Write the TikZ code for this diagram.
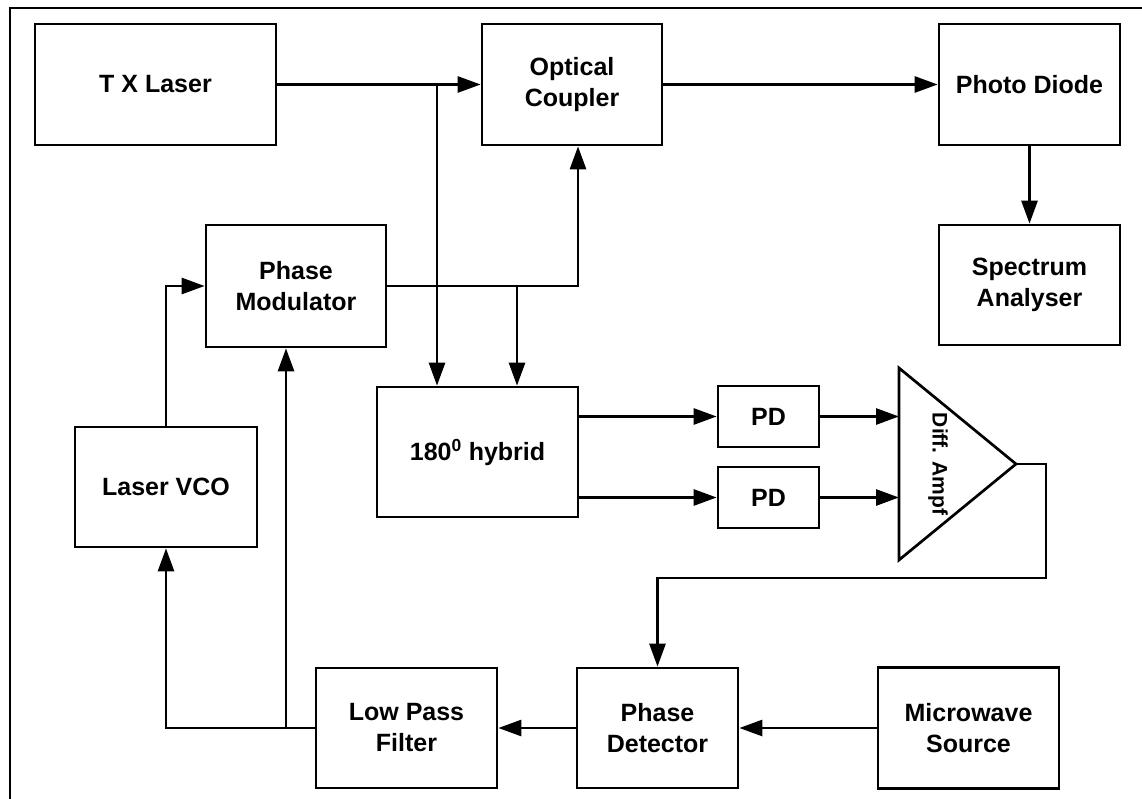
\documentclass[tikz,border=0pt]{standalone}
\usepackage{fontspec}
\setmainfont{Liberation Sans}
\usetikzlibrary{arrows.meta,calc}
\begin{document}
\begin{tikzpicture}[x=1pt,y=-1pt,
  line/.style={line width=2.7pt},
  arr/.style={line, -{Triangle[length=23pt,width=16pt]}},
  blk/.style={draw, line width=2.7pt, inner sep=0pt, align=center,
    font=\fontsize{25}{31}\selectfont\bfseries},
]
\useasboundingbox (0,0) rectangle (1142,799);
\draw[line] (10,799) -- (10,8) -- (1142,8);

\node[blk, minimum width=241pt, minimum height=121pt] (tx) at (155.5,84.5) {T X Laser};
\node[blk, minimum width=180pt, minimum height=121pt] (oc) at (572,84.5) {Optical\\Coupler};
\node[blk, minimum width=181pt, minimum height=121pt] (pd) at (1029.5,84.5) {Photo Diode};
\node[blk, minimum width=181pt, minimum height=120pt] (sa) at (1029.5,285) {Spectrum\\Analyser};
\node[blk, minimum width=180pt, minimum height=122pt] (pm) at (296,286) {Phase\\Modulator};
\node[blk, minimum width=201pt, minimum height=130pt] (hyb) at (477.5,452) {180\textsuperscript{0} hybrid};
\node[blk, minimum width=101pt, minimum height=61pt] (pd1) at (768.5,416.5) {PD};
\node[blk, minimum width=101pt, minimum height=61pt] (pd2) at (768.5,497.5) {PD};
\node[blk, minimum width=182pt, minimum height=120pt] (vco) at (166,487) {Laser VCO};
\node[blk, minimum width=181pt, minimum height=120pt] (lpf) at (406.5,728) {Low Pass\\Filter};
\node[blk, minimum width=161pt, minimum height=120pt] (det) at (657.5,728) {Phase\\Detector};
\node[blk, minimum width=181pt, minimum height=121pt] (mw) at (968.5,728) {Microwave\\Source};

% amplifier triangle
\coordinate (ta) at (899,368);
\coordinate (tb) at (899,560);
\coordinate (tc) at (1016,464);
\draw[line, line join=miter] (ta) -- (tc) -- (tb) -- cycle;
\node[rotate=-90, font=\fontsize{21}{25}\selectfont\bfseries] (amp) at (938,464) {Diff. Ampf};

% connectors
\coordinate (j1) at (437,84.5);
\coordinate (j2) at (517,286);
\coordinate (r1) at (1046,464);
\coordinate (r2) at (1046,578);
\coordinate (ocin) at ([xshift=6pt]oc.south);
\coordinate (pmin) at ([xshift=-10pt]pm.south);
\draw[arr] (tx.east) -- (oc.west);
\draw[arr] (j1) -- (j1 |- hyb.north);
\draw[arr] (oc.east) -- (pd.west);
\draw[arr] (pd.south) -- (sa.north);
\draw[arr] (pm.east) -| (ocin);
\draw[arr] (j2) -- (j2 |- hyb.north);
\draw[arr] (hyb.east |- pd1.west) -- (pd1.west);
\draw[arr] (hyb.east |- pd2.west) -- (pd2.west);
\draw[arr] (pd1.east) -- (pd1.east -| ta);
\draw[arr] (pd2.east) -- (pd2.east -| ta);
\draw[arr] (tc) -- (r1) -- (r2) -| (det.north);
\draw[arr] (mw.west) -- (det.east);
\draw[arr] (det.west) -- (lpf.east);
\draw[arr] (lpf.west) -| (vco.south);
\draw[arr] (lpf.west -| pmin) -- (pmin);
\draw[arr] (vco.north) |- (pm.west);
\end{tikzpicture}
\end{document}
